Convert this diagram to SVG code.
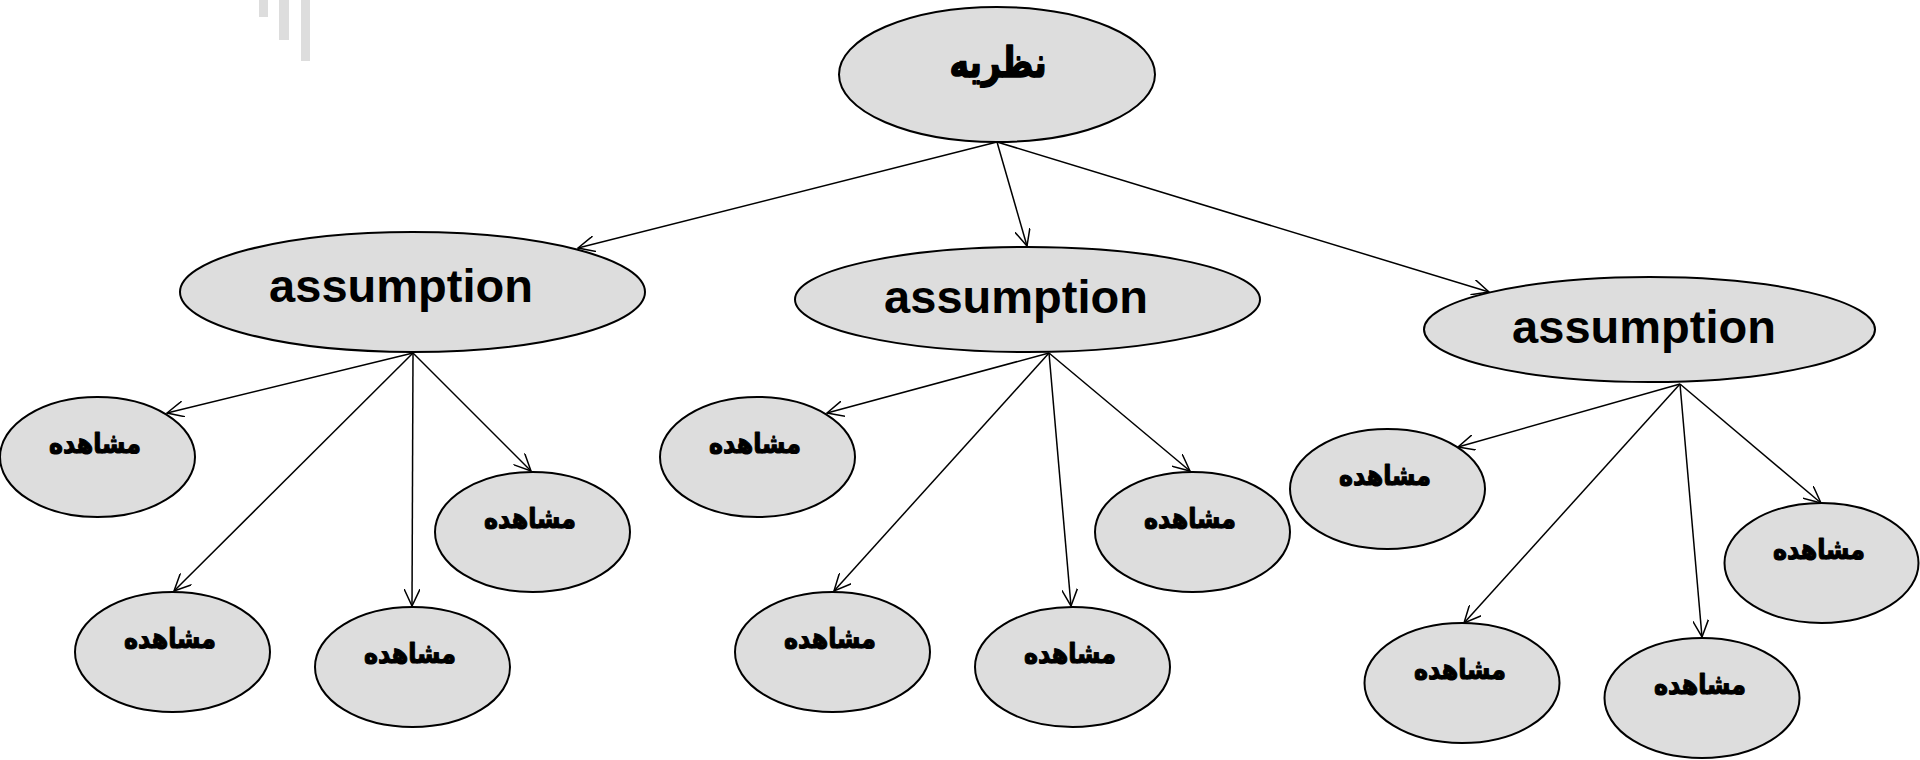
<svg xmlns="http://www.w3.org/2000/svg" width="1920" height="760" viewBox="0 0 1920 760">
<style>
.node ellipse{fill:#dddddd;stroke:#000;stroke-width:2}
.en{font-family:"Liberation Sans",Arial,sans-serif;font-weight:bold;font-size:47px;fill:#000;text-anchor:middle}
.fa{font-family:"DejaVu Sans","Noto Sans",sans-serif;font-weight:bold;font-size:28px;fill:#000;stroke:#000;stroke-width:1.2;stroke-linejoin:round;text-anchor:middle}
.root{font-size:42px;stroke-width:1.6}
#connectors line{stroke:#000;stroke-width:1.5;marker-end:url(#arr)}
.deco{fill:#dddddd}
</style>
<defs>
<marker id="arr" viewBox="0 0 18 16" refX="17" refY="8" markerWidth="18" markerHeight="16" markerUnits="userSpaceOnUse" orient="auto">
<path d="M0,0 L17,8 L0,16" fill="none" stroke="#000" stroke-width="1.5"/>
</marker>
</defs>
<rect width="1920" height="760" fill="#fff"/>
<g id="decoration">
<rect class="deco" x="259" y="0" width="9" height="17"/>
<rect class="deco" x="279" y="0" width="10" height="40"/>
<rect class="deco" x="301" y="0" width="9" height="61"/>
</g>
<g id="connectors">
<line x1="997" y1="142" x2="578" y2="248"/>
<line x1="997" y1="142" x2="1027" y2="246"/>
<line x1="997" y1="142" x2="1489" y2="292"/>
<line x1="413" y1="353" x2="167" y2="413"/>
<line x1="413" y1="353" x2="174" y2="591"/>
<line x1="413" y1="353" x2="412" y2="606"/>
<line x1="413" y1="353" x2="531" y2="471"/>
<line x1="1049" y1="353" x2="827" y2="413"/>
<line x1="1049" y1="353" x2="834" y2="591"/>
<line x1="1049" y1="353" x2="1071" y2="606"/>
<line x1="1049" y1="353" x2="1190" y2="471"/>
<line x1="1680" y1="384" x2="1458" y2="447"/>
<line x1="1680" y1="384" x2="1464" y2="623"/>
<line x1="1680" y1="384" x2="1702" y2="637"/>
<line x1="1680" y1="384" x2="1821" y2="503"/>
</g>
<g id="root" class="node"><ellipse cx="997" cy="74.5" rx="158" ry="67.5"/><text class="fa root" x="998" y="77" textLength="97" lengthAdjust="spacingAndGlyphs">نظریه</text></g>
<g id="a1" class="node"><ellipse cx="412.5" cy="292" rx="232.5" ry="60"/><text class="en" x="401" y="302">assumption</text></g>
<g id="a2" class="node"><ellipse cx="1027.5" cy="299.5" rx="232.5" ry="52.5"/><text class="en" x="1016" y="313">assumption</text></g>
<g id="a3" class="node"><ellipse cx="1649.5" cy="329.5" rx="225.5" ry="52.5"/><text class="en" x="1644" y="343">assumption</text></g>
<g id="o1a" class="node"><ellipse cx="97.5" cy="457" rx="97.5" ry="60"/><text class="fa" x="95" y="453" textLength="92" lengthAdjust="spacingAndGlyphs">مشاهده</text></g>
<g id="o1b" class="node"><ellipse cx="172.5" cy="652" rx="97.5" ry="60"/><text class="fa" x="170" y="648" textLength="92" lengthAdjust="spacingAndGlyphs">مشاهده</text></g>
<g id="o1c" class="node"><ellipse cx="412.5" cy="667" rx="97.5" ry="60"/><text class="fa" x="410" y="663" textLength="92" lengthAdjust="spacingAndGlyphs">مشاهده</text></g>
<g id="o1d" class="node"><ellipse cx="532.5" cy="532" rx="97.5" ry="60"/><text class="fa" x="530" y="528" textLength="92" lengthAdjust="spacingAndGlyphs">مشاهده</text></g>
<g id="o2a" class="node"><ellipse cx="757.5" cy="457" rx="97.5" ry="60"/><text class="fa" x="755" y="453" textLength="92" lengthAdjust="spacingAndGlyphs">مشاهده</text></g>
<g id="o2b" class="node"><ellipse cx="832.5" cy="652" rx="97.5" ry="60"/><text class="fa" x="830" y="648" textLength="92" lengthAdjust="spacingAndGlyphs">مشاهده</text></g>
<g id="o2c" class="node"><ellipse cx="1072.5" cy="667" rx="97.5" ry="60"/><text class="fa" x="1070" y="663" textLength="92" lengthAdjust="spacingAndGlyphs">مشاهده</text></g>
<g id="o2d" class="node"><ellipse cx="1192.5" cy="532" rx="97.5" ry="60"/><text class="fa" x="1190" y="528" textLength="92" lengthAdjust="spacingAndGlyphs">مشاهده</text></g>
<g id="o3a" class="node"><ellipse cx="1387.5" cy="489" rx="97.5" ry="60"/><text class="fa" x="1385" y="485" textLength="92" lengthAdjust="spacingAndGlyphs">مشاهده</text></g>
<g id="o3b" class="node"><ellipse cx="1462" cy="683" rx="97.5" ry="60"/><text class="fa" x="1460" y="679" textLength="92" lengthAdjust="spacingAndGlyphs">مشاهده</text></g>
<g id="o3c" class="node"><ellipse cx="1702" cy="698" rx="97.5" ry="60"/><text class="fa" x="1700" y="694" textLength="92" lengthAdjust="spacingAndGlyphs">مشاهده</text></g>
<g id="o3d" class="node"><ellipse cx="1821.5" cy="563" rx="97" ry="60"/><text class="fa" x="1819" y="559" textLength="92" lengthAdjust="spacingAndGlyphs">مشاهده</text></g>
</svg>
